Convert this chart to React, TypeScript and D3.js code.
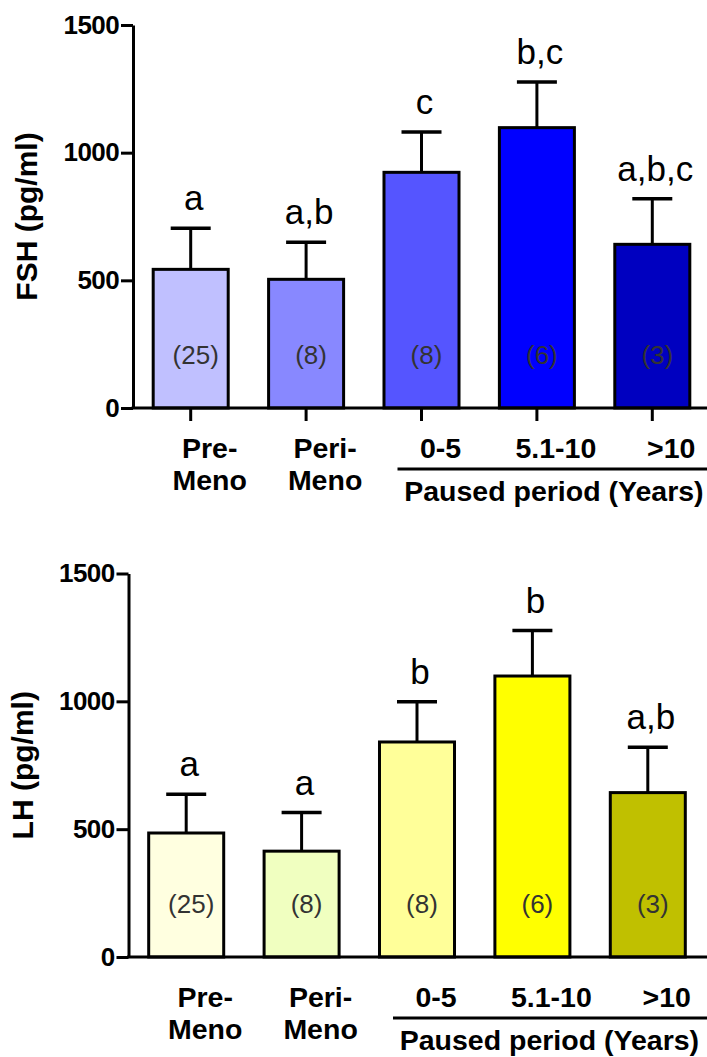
import React, { useEffect, useRef } from 'react';
import * as d3 from 'd3';

const categories = ['Pre-Meno', 'Peri-Meno', '0-5', '5.1-10', '>10'];
const tickLines = [['Pre-', 'Meno'], ['Peri-', 'Meno'], ['0-5'], ['5.1-10'], ['>10']];
const counts = ['(25)', '(8)', '(8)', '(6)', '(3)'];
const yTicks = [0, 500, 1000, 1500];

const fshMean = [543, 504, 923, 1098, 641];
const fshSem = [161, 145, 158, 179, 179];
const fshLetters = ['a', 'a,b', 'c', 'b,c', 'a,b,c'];
const fshColors = ['#C0C0FF', '#8888FF', '#5555FF', '#0000FF', '#0000C0'];

const lhMean = [485, 414, 841, 1099, 643];
const lhSem = [152, 151, 157, 178, 177];
const lhLetters = ['a', 'a', 'b', 'b', 'a,b'];
const lhColors = ['#FFFFE0', '#F0FFC0', '#FFFF99', '#FFFF00', '#C0C000'];

const FONT = "'Liberation Sans', Arial, Helvetica, sans-serif";

function drawPanel(svg, opts) {
  const { axisX, top, bottom, mean, sem, letters, colors, title, xTicks } = opts;
  const g = svg.append('g');

  const y = d3.scaleLinear().domain([0, 1500]).range([bottom, top]);
  const x = d3.scaleBand()
    .domain(categories)
    .range([axisX, axisX + 577])
    .paddingInner(0.35)
    .paddingOuter(0.175);

  const data = categories.map((c, i) => ({
    c, mean: mean[i], sem: sem[i], letter: letters[i], color: colors[i], n: counts[i], lines: tickLines[i],
  }));

  // bars
  g.selectAll('rect.bar').data(data).enter().append('rect')
    .attr('x', d => x(d.c))
    .attr('y', d => y(d.mean))
    .attr('width', x.bandwidth())
    .attr('height', d => y(0) - y(d.mean))
    .attr('fill', d => d.color)
    .attr('stroke', '#000')
    .attr('stroke-width', 3);

  // error bars
  const cx = d => x(d.c) + x.bandwidth() / 2;
  g.selectAll('line.err').data(data).enter().append('line')
    .attr('x1', cx).attr('x2', cx)
    .attr('y1', d => y(d.mean)).attr('y2', d => y(d.mean + d.sem))
    .attr('stroke', '#000').attr('stroke-width', 3);
  g.selectAll('line.cap').data(data).enter().append('line')
    .attr('x1', d => cx(d) - 20).attr('x2', d => cx(d) + 20)
    .attr('y1', d => y(d.mean + d.sem)).attr('y2', d => y(d.mean + d.sem))
    .attr('stroke', '#000').attr('stroke-width', 3.5);

  // significance letters
  g.selectAll('text.sig').data(data).enter().append('text')
    .attr('x', d => cx(d) + 3)
    .attr('y', d => y(d.mean + d.sem) - 18)
    .attr('text-anchor', 'middle')
    .attr('font-size', 35)
    .attr('font-family', FONT)
    .attr('fill', '#000')
    .text(d => d.letter);

  // n counts
  g.selectAll('text.n').data(data).enter().append('text')
    .attr('x', d => cx(d) + 5)
    .attr('y', y(0) - 44)
    .attr('text-anchor', 'middle')
    .attr('font-size', 26)
    .attr('font-family', FONT)
    .attr('fill', '#333')
    .text(d => d.n);

  // y axis
  const yAxis = g.append('g')
    .attr('transform', `translate(${axisX},0)`)
    .call(d3.axisLeft(y).tickValues(yTicks).tickFormat(d3.format('d'))
      .tickSize(12).tickSizeOuter(0).tickPadding(2));
  yAxis.select('.domain').attr('stroke-width', 3);
  yAxis.selectAll('.tick line').attr('stroke-width', 3);
  yAxis.selectAll('.tick text')
    .attr('font-size', 26)
    .attr('font-weight', 'bold')
    .attr('font-family', FONT)
    .attr('letter-spacing', -0.6)
    .attr('fill', '#000');

  // x axis
  const xAxis = g.append('g')
    .attr('transform', `translate(0,${bottom})`)
    .call(d3.axisBottom(x).tickSize(xTicks ? 13 : 0).tickFormat(() => ''));
  xAxis.select('.domain').remove();
  xAxis.selectAll('.tick line').attr('stroke-width', 3);
  g.append('line')
    .attr('x1', axisX - 1.5).attr('x2', 707)
    .attr('y1', bottom).attr('y2', bottom)
    .attr('stroke', '#000').attr('stroke-width', 3);

  // category labels
  data.forEach(d => {
    d.lines.forEach((ln, j) => {
      g.append('text')
        .attr('x', cx(d) + 19)
        .attr('y', bottom + 50 + j * 32)
        .attr('text-anchor', 'middle')
        .attr('font-size', 28.5)
        .attr('font-weight', 'bold')
        .attr('font-family', FONT)
        .text(ln);
    });
  });

  // paused period group
  const c3 = cx(data[2]);
  const c5 = cx(data[4]);
  g.append('line')
    .attr('x1', c3 - 24).attr('x2', 707)
    .attr('y1', bottom + 61).attr('y2', bottom + 61)
    .attr('stroke', '#000').attr('stroke-width', 3);
  g.append('text')
    .attr('x', (c3 + c5) / 2 + 17)
    .attr('y', bottom + 93)
    .attr('text-anchor', 'middle')
    .attr('font-size', 28.5)
    .attr('font-weight', 'bold')
    .attr('font-family', FONT)
    .text('Paused period (Years)');

  // y title
  g.append('text')
    .attr('transform', `translate(${axisX - 96},${(top + bottom) / 2}) rotate(-90)`)
    .attr('text-anchor', 'middle')
    .attr('font-size', 30)
    .attr('font-weight', 'bold')
    .attr('font-family', FONT)
    .text(title);
}

export default function App() {
  const ref = useRef(null);

  useEffect(() => {
    const svg = d3.select(ref.current);
    svg.selectAll('*').remove();
    drawPanel(svg, {
      axisX: 133, top: 25, bottom: 408,
      mean: fshMean, sem: fshSem, letters: fshLetters, colors: fshColors,
      title: 'FSH (pg/ml)', xTicks: true,
    });
    drawPanel(svg, {
      axisX: 128.5, top: 573.5, bottom: 957,
      mean: lhMean, sem: lhSem, letters: lhLetters, colors: lhColors,
      title: 'LH (pg/ml)', xTicks: false,
    });
  }, []);

  return (
    <>
      <style>{'body{margin:0;background:#fff}'}</style>
      <svg ref={ref} width={707} height={1057} style={{ display: 'block', background: '#fff' }} />
    </>
  );
}
